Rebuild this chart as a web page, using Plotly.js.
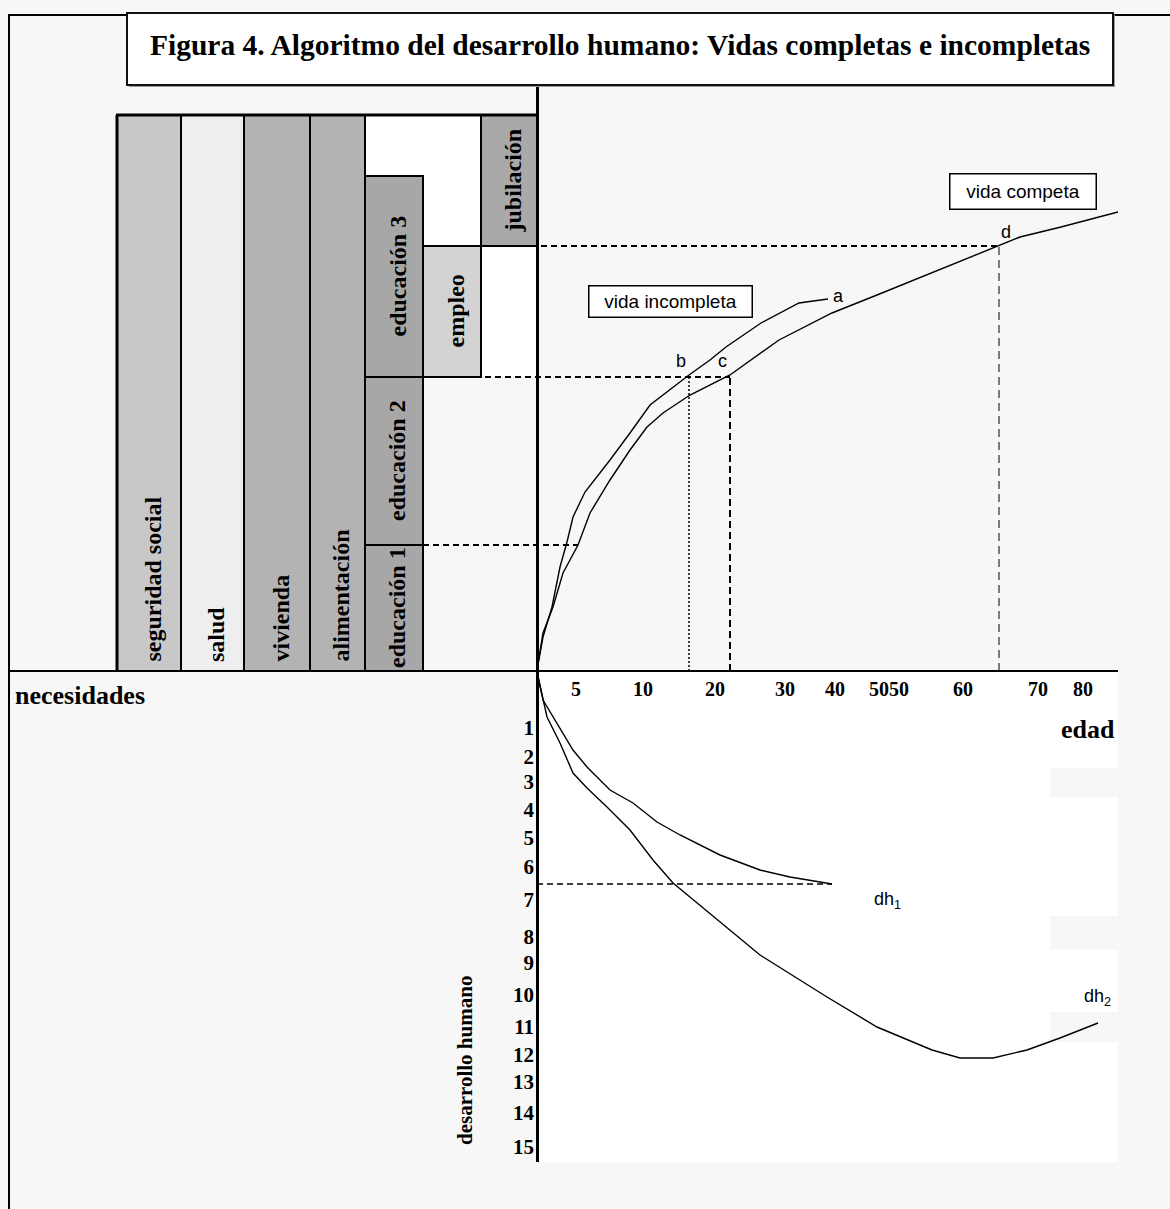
<!DOCTYPE html>
<html>
<head>
<meta charset="utf-8">
<script src="https://cdn.plot.ly/plotly-3.0.1.min.js"></script>
<style>
html,body{margin:0;padding:0;background:#f7f7f7;}
#chart{width:1170px;height:1209px;}
</style>
</head>
<body>
<div id="chart"></div>
<script>
// ---------------- DATA ----------------
// Needs (upper-left quadrant): horizontal extent and vertical extent in diagram units
const needNames = ['seguridad social','salud','vivienda','alimentación','educación 1','educación 2','educación 3','empleo','jubilación'];
const needLeft  = [-420,-356,-293,-227,-172,-172,-172,-114,-56];
const needRight = [-356,-293,-227,-172,-114,-114,-114,-56,0];
const needBase  = [0,0,0,0,0,126,294,294,425];
const needTop   = [556,556,556,556,126,294,495,425,556];

// Age axis (upper-right quadrant) tick labels
const ageTickPos    = [39,106,178,248,298,352,426,501,546];
const ageTickLabels = ['5','10','20','30','40','5050','60','70','80'];

// Human development axis (lower quadrant) tick labels
const dhTickPos    = [-57,-86,-111,-139,-167,-196,-229,-266,-292,-324,-356,-384,-411,-442,-476];
const dhTickLabels = ['1','2','3','4','5','6','7','8','9','10','11','12','13','14','15'];

// Curve "vida incompleta" (a)
const incAge  = [0,6,15,23,30,36,48,73,93,113,152,173,189,224,262,291];
const incNeed = [1,34,64,104,129,154,179,211,238,266,296,311,324,348,368,372];

// Curve "vida completa"
const compAge  = [0,6,16,26,41,53,73,93,110,126,153,193,242,295,340,462,483,524,581];
const compNeed = [1,38,64,98,126,158,191,221,244,258,276,296,331,358,376,425,434,444,459];

// Curve dh1 (incomplete life development)
const dh1Age = [0,6,36,50,73,96,120,143,183,223,253,295];
const dh1Val = [-1,-29,-79,-96,-119,-132,-151,-164,-184,-199,-206,-213];

// Curve dh2 (complete life development)
const dh2Age = [0,10,23,36,50,70,93,116,136,223,290,340,395,423,456,490,523,561];
const dh2Val = [-1,-46,-72,-102,-117,-136,-159,-189,-212,-284,-326,-356,-379,-387,-387,-379,-367,-352];

// Guide levels: need threshold -> where it meets a curve
const guideLevel = [126,294,425];
const guideFrom  = [-114,-172,-56];
const guideTo    = [41,193,462];

// Key points b, c, d
const keyNames = ['b','c','d'];
const keyAge   = [152,193,462];
const keyLevel = [296,296,425];

// ---------------- STYLE ----------------
const W = 1170, H = 1209;
const PX = v => v / W;
const PY = v => 1 - v / H;
const SERIF = 'Liberation Serif, Times New Roman, serif';
const SANS = 'Liberation Sans, Arial, sans-serif';
const needColors = ['#c8c8c8','#eeeeee','#b3b3b3','#b3b3b3','#a7a7a7','#a7a7a7','#a7a7a7','#d3d3d3','#a9a9a9'];

const traces = [];

// Bars
traces.push({
  type: 'bar',
  x: needLeft.map((l,i) => (l + needRight[i]) / 2),
  width: needLeft.map((l,i) => needRight[i] - l),
  base: needBase,
  y: needTop.map((t,i) => t - needBase[i]),
  marker: {color: needColors, line: {color: '#000', width: 2}},
  hoverinfo: 'skip', showlegend: false
});

function line(x, y, w, dash) {
  return {type:'scatter', mode:'lines', x:x, y:y, line:{color:'#000', width:w, dash:dash||'solid'},
          hoverinfo:'skip', showlegend:false};
}

// horizontal guides
guideLevel.forEach((lv,i) => {
  traces.push(line([guideFrom[i], guideTo[i]], [lv, lv], 2, '6px,4px'));
});
// vertical drops from b, c, d
const dropStyle = [[1.5,'2px,2px'],[2,'7px,4px'],[1,'8px,5px']];
keyAge.forEach((a,i) => {
  traces.push(line([a, a], [0, keyLevel[i]], dropStyle[i][0], dropStyle[i][1]));
});
// dh1 level guide
traces.push(line([0, dh1Age[dh1Age.length-1]], [dh1Val[dh1Val.length-1], dh1Val[dh1Val.length-1]], 1.5, '6px,4px'));

// curves
traces.push(line(incAge, incNeed, 1.4));
traces.push(line(compAge, compNeed, 1.4));
traces.push(line(dh1Age, dh1Val, 1.4));
traces.push(line(dh2Age, dh2Val, 1.4));

// ---------------- ANNOTATIONS ----------------
const ann = [];
const maxTop = Math.max(...needTop);
needNames.forEach((n,i) => {
  const full = needBase[i] === 0 && needTop[i] === maxTop;
  ann.push({
    xref:'x', yref:'y',
    x: (needLeft[i] + needRight[i]) / 2,
    y: full ? needBase[i] : (needBase[i] + needTop[i]) / 2,
    xanchor:'center', yanchor: full ? 'bottom' : 'middle',
    xshift: 3, yshift: full ? 7 : 0,
    text: n, textangle: -90, showarrow:false,
    font:{family:SERIF, size:24, color:'#000', weight:700}
  });
});
keyNames.forEach((k,i) => {
  ann.push({xref:'x', yref:'y', x:keyAge[i], y:keyLevel[i], text:k, showarrow:false,
    xanchor: i===2 ? 'left':'right', yanchor:'bottom', xshift: i===2 ? 0 : -1, yshift: 2,
    font:{family:SANS, size:18, color:'#000'}});
});
ann.push({xref:'x', yref:'y', x:incAge[incAge.length-1], y:incNeed[incNeed.length-1], text:'a',
  showarrow:false, xanchor:'left', yanchor:'middle', xshift:3, yshift:3, font:{family:SANS,size:18,color:'#000'}});
ann.push({xref:'x', yref:'y', x:133, y:370, text:'vida incompleta', showarrow:false,
  bgcolor:'#ffffff', bordercolor:'#000', borderwidth:1.5, borderpad:3, width:156, height:24,
  font:{family:SANS,size:19,color:'#000'}});
ann.push({xref:'x', yref:'y', x:486, y:480, text:'vida competa', showarrow:false,
  bgcolor:'#ffffff', bordercolor:'#000', borderwidth:1.5, borderpad:3, width:139, height:28,
  font:{family:SANS,size:19,color:'#000'}});
ann.push({xref:'x', yref:'y', x:350, y:-229, text:'dh<sub>1</sub>', showarrow:false,
  font:{family:SANS,size:18,color:'#000'}});
ann.push({xref:'x', yref:'y', x:560, y:-326, text:'dh<sub>2</sub>', showarrow:false,
  font:{family:SANS,size:18,color:'#000'}});
ann.push({xref:'paper', yref:'paper', x:PX(13), y:PY(695), text:'necesidades', showarrow:false,
  xanchor:'left', yanchor:'middle', font:{family:SERIF,size:26,color:'#000',weight:700}});
ann.push({xref:'paper', yref:'paper', x:PX(1117), y:PY(729), text:'edad', showarrow:false,
  xanchor:'right', yanchor:'middle', font:{family:SERIF,size:26,color:'#000',weight:700}});
ann.push({xref:'paper', yref:'paper', x:PX(465), y:PY(1061), text:'desarrollo humano', showarrow:false,
  textangle:-90, xanchor:'center', yanchor:'middle', font:{family:SERIF,size:21,color:'#000',weight:700}});

// ---------------- SHAPES ----------------
const shapes = [
  // white lower-right quadrant
  {type:'rect', xref:'x', yref:'y', x0:0, x1:581, y0:0, y1:-491, fillcolor:'#ffffff', line:{width:0}, layer:'below'},
  // grey notches on the right edge
  {type:'rect', xref:'x', yref:'y', x0:513, x1:581, y0:-97, y1:-126, fillcolor:'#f7f7f7', line:{width:0}, layer:'below'},
  {type:'rect', xref:'x', yref:'y', x0:513, x1:581, y0:-245, y1:-279, fillcolor:'#f7f7f7', line:{width:0}, layer:'below'},
  {type:'rect', xref:'x', yref:'y', x0:513, x1:581, y0:-341, y1:-371, fillcolor:'#f7f7f7', line:{width:0}, layer:'below'},
  // white frame area above the stacked needs
  {type:'rect', xref:'x', yref:'y', x0:-172, x1:0, y0:294, y1:556, fillcolor:'#ffffff', line:{width:0}, layer:'below'},
  // frame top line
  {type:'line', xref:'x', yref:'y', x0:-421, x1:0, y0:556, y1:556, line:{color:'#000', width:3}},
  {type:'line', xref:'x', yref:'y', x0:-420, x1:-420, y0:0, y1:556, line:{color:'#000', width:3}},
  // outer border
  {type:'line', xref:'paper', yref:'paper', x0:PX(9), x1:PX(9), y0:PY(14), y1:0, line:{color:'#000', width:2}},
  {type:'line', xref:'paper', yref:'paper', x0:PX(9), x1:PX(127), y0:PY(15), y1:PY(15), line:{color:'#000', width:2}},
  {type:'line', xref:'paper', yref:'paper', x0:PX(1113), x1:1, y0:PY(15), y1:PY(15), line:{color:'#000', width:2}},
  // title box shadow + box
  {type:'rect', xref:'paper', yref:'paper', x0:PX(129), x1:PX(1115), y0:PY(15), y1:PY(87), fillcolor:'#9a9a9a', line:{width:0}},
  {type:'rect', xref:'paper', yref:'paper', x0:PX(127), x1:PX(1113), y0:PY(13), y1:PY(85), fillcolor:'#ffffff', line:{color:'#111', width:2}}
];

const layout = {
  width: W, height: H,
  margin: {l:0, r:0, t:0, b:0, pad:0},
  paper_bgcolor: '#f7f7f7', plot_bgcolor: '#f7f7f7',
  showlegend: false,
  barmode: 'overlay',
  title: {text:'Figura 4. Algoritmo del desarrollo humano: Vidas completas e incompletas',
          x: PX(150), xanchor:'left', xref:'paper', y: PY(45), yanchor:'middle', yref:'paper',
          font:{family:SERIF, size:29.5, color:'#000', weight:700}},
  xaxis: {
    domain: [PX(8), PX(1118)], range: [-529, 581], fixedrange:true,
    showgrid:false, zeroline:true, zerolinecolor:'#000', zerolinewidth:3, showline:false,
    anchor:'free', position: PY(671),
    tickmode:'array', tickvals: ageTickPos, ticktext: ageTickLabels, ticks:'',
    ticklabelstandoff: 4,
    tickfont:{family:SERIF, size:20, color:'#000', weight:700}
  },
  yaxis: {
    domain: [PY(1162), PY(87)], range: [-491, 584], fixedrange:true,
    showgrid:false, zeroline:true, zerolinecolor:'#000', zerolinewidth:2, showline:false,
    anchor:'free', position: PX(537),
    tickmode:'array', tickvals: dhTickPos, ticktext: dhTickLabels, ticks:'',
    ticklabelstandoff: 3,
    tickfont:{family:SERIF, size:21, color:'#000', weight:700}
  },
  shapes: shapes,
  annotations: ann
};

Plotly.newPlot('chart', traces, layout, {displayModeBar:false, staticPlot:true});
</script>
</body>
</html>
